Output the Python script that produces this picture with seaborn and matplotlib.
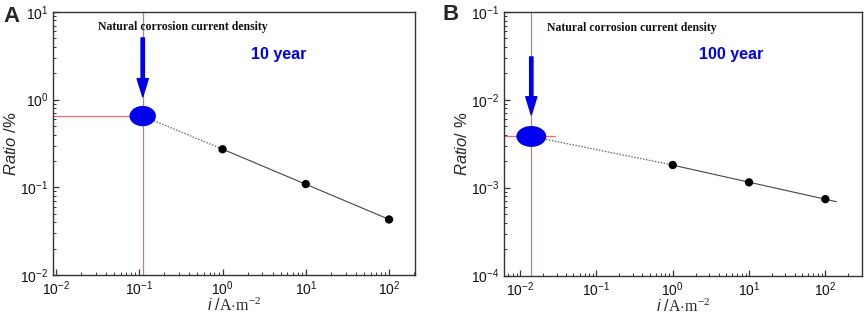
import numpy as np
import pandas as pd
import matplotlib
matplotlib.use("Agg")
import matplotlib.pyplot as plt
from matplotlib.path import Path
from matplotlib.ticker import LogLocator, NullFormatter, FuncFormatter
import seaborn as sns

# ---------------- data ----------------
panel_labels = ["A", "B"]
year_labels = ["10 year", "100 year"]
annot_text = "Natural corrosion current density"

x_data = [1, 10, 100]
ratio_10y = [0.272, 0.109, 0.043]
ratio_100y = [0.00181, 0.00115, 0.00074]

# natural corrosion point (i, ratio)
nat_10y = [0.11, 0.65]
nat_100y = [0.014, 0.00383]

fit_end = [100, 140]
red_h_end = [0.11, 0.029]

arrow_10y = [5.07, 1.08]      # top, tip (ratio units)
arrow_100y = [0.0308, 0.00676]

xlims = [(0.0092, 205), (0.0062, 300)]
ylims = [(0.01, 10), (1e-4, 0.1)]
ylabels = [r"$\mathit{Ratio}$ /%", r"$\mathit{Ratio}$/ %"]

# ---------------- style ----------------
sns.set_style("ticks")
plt.rcParams["font.family"] = ["Liberation Sans", "DejaVu Sans"]
plt.rcParams["mathtext.fontset"] = "custom"
plt.rcParams["mathtext.rm"] = "Liberation Serif"
plt.rcParams["mathtext.it"] = "Liberation Sans:italic"
plt.rcParams["mathtext.default"] = "regular"
plt.rcParams["axes.unicode_minus"] = False

fig = plt.figure(figsize=(8.65, 3.16), dpi=100)
ax_pos = [[53 / 865, 1 - 275 / 316, 362 / 865, 263 / 316],
          [504.3 / 865, 1 - 275.5 / 316, 357.4 / 865, 263.5 / 316]]

frame_c = "#333333"
red_c = "#e07070"
blue_c = "#0000ee"

def ellipse_marker(aspect):
    t = np.linspace(0, 2 * np.pi, 60)
    verts = np.column_stack([aspect * np.cos(t), np.sin(t)])
    return Path(verts, closed=True)

def fmt(v, pos):
    e = int(round(np.log10(v)))
    return r"$\mathregular{10^{%d}}$" % e

datasets = [(ratio_10y, nat_10y, arrow_10y, 1.3, 19),
            (ratio_100y, nat_100y, arrow_100y, 1.43, 21.5)]

for k in range(2):
    ratio, nat, arr, asp, msize = datasets[k]
    ax = fig.add_axes(ax_pos[k])
    ax.set_xscale("log")
    ax.set_yscale("log")
    ax.set_xlim(*xlims[k])
    ax.set_ylim(*ylims[k])

    # red guide lines
    ax.axvline(nat[0], color=red_c, lw=0.9, zorder=1)
    ax.plot([xlims[k][0], red_h_end[k]], [nat[1], nat[1]], color=red_c, lw=0.9, zorder=1)

    # fit line in log space
    cf = np.polyfit(np.log10(x_data), np.log10(ratio), 1)
    fx = np.array([x_data[0], fit_end[k]])
    df_fit = pd.DataFrame({"x": fx, "y": 10 ** np.polyval(cf, np.log10(fx))})
    sns.lineplot(data=df_fit, x="x", y="y", ax=ax, color="#444444", lw=0.8, zorder=2)
    df_dot = pd.DataFrame({"x": [nat[0], x_data[0]], "y": [nat[1], ratio[0]]})
    sns.lineplot(data=df_dot, x="x", y="y", ax=ax, color="#666666", lw=0.9,
                 linestyle=(0, (1.2, 1.2)), zorder=2)

    df = pd.DataFrame({"x": x_data, "y": ratio})
    sns.scatterplot(data=df, x="x", y="y", ax=ax, color="black", s=36,
                    edgecolor="none", zorder=4)
    dn = pd.DataFrame({"x": [nat[0]], "y": [nat[1]]})
    sns.scatterplot(data=dn, x="x", y="y", ax=ax, color=blue_c,
                    marker=ellipse_marker(asp), s=msize ** 2,
                    edgecolor="none", zorder=5)

    # arrow
    ax.annotate("", xy=(nat[0], arr[1]), xytext=(nat[0], arr[0]),
                arrowprops=dict(width=2.4, headwidth=8, headlength=13,
                                color=blue_c, shrink=0), zorder=6)

    ax.text([0.124, 0.119][k], [0.944, 0.940][k], annot_text, transform=ax.transAxes,
            fontsize=8.5, fontweight="bold", family="Liberation Serif",
            ha="left", va="center", color="#111111")
    ax.text(0.547 if k == 0 else 0.545, 0.84, year_labels[k], transform=ax.transAxes,
            fontsize=11.5, fontweight="bold", color=blue_c, ha="left", va="center")

    # ticks
    ax.xaxis.set_major_locator(LogLocator(base=10, numticks=10))
    ax.xaxis.set_minor_locator(LogLocator(base=10, subs=np.arange(2, 10), numticks=20))
    ax.yaxis.set_major_locator(LogLocator(base=10, numticks=10))
    ax.yaxis.set_minor_locator(LogLocator(base=10, subs=np.arange(2, 10), numticks=20))
    ax.xaxis.set_major_formatter(FuncFormatter(fmt))
    ax.yaxis.set_major_formatter(FuncFormatter(fmt))
    ax.xaxis.set_minor_formatter(NullFormatter())
    ax.yaxis.set_minor_formatter(NullFormatter())
    ax.tick_params(which="both", direction="in", top=False, right=False,
                   color=frame_c, labelsize=10, labelcolor="#111111")
    ax.tick_params(which="major", length=4, width=0.9)
    ax.tick_params(which="minor", length=2.2, width=0.7)
    for sp in ax.spines.values():
        sp.set_color(frame_c)
        sp.set_linewidth(1.0)

    ax.set_xlabel(r"$\mathit{i}\ /\mathrm{A{\cdot}m^{-2}}$", fontsize=11.5, labelpad=-1)
    ax.set_ylabel(ylabels[k], fontsize=12, labelpad=1)

    fig.text([3 / 865, 443 / 865][k], [1 - 17 / 316, 1 - 15 / 316][k], panel_labels[k],
             fontsize=16, fontweight="bold", ha="left", va="center")

fig.savefig("out.png", dpi=100)
